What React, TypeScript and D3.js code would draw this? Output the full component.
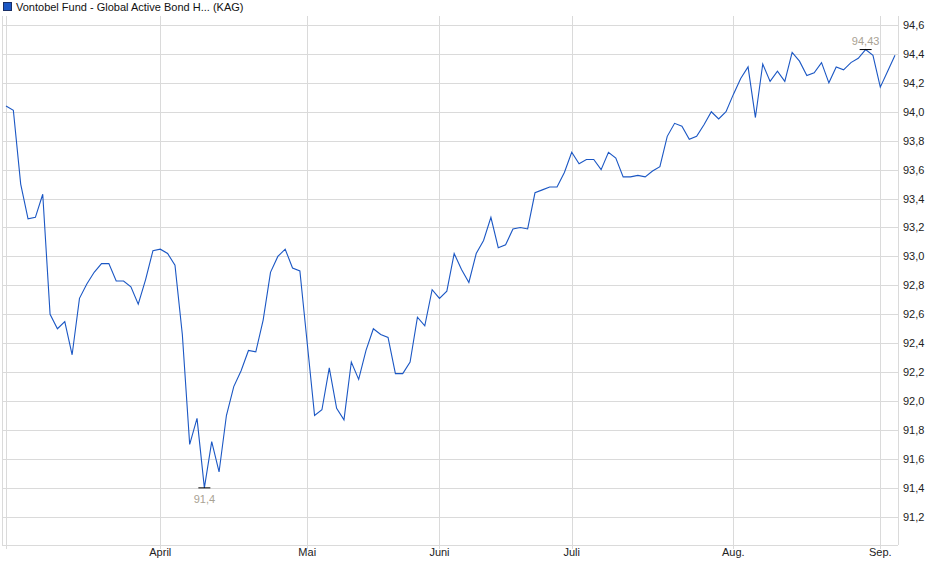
import React from "react";
import * as d3 from "d3";

// Fund price, one value per trading day
const values = [
  94.04, 94.01, 93.5, 93.26, 93.27, 93.43, 92.6, 92.5, 92.55, 92.32,
  92.71, 92.81, 92.89, 92.95, 92.95, 92.83, 92.83, 92.79, 92.67, 92.84,
  93.04, 93.05, 93.02, 92.94, 92.46, 91.7, 91.88, 91.4, 91.72, 91.51,
  91.9, 92.1, 92.21, 92.35, 92.34, 92.56, 92.89, 93.0, 93.05, 92.92,
  92.9, 92.4, 91.9, 91.94, 92.23, 91.95, 91.87, 92.27, 92.15, 92.35,
  92.5, 92.46, 92.44, 92.19, 92.19, 92.27, 92.58, 92.52, 92.77, 92.71,
  92.76, 93.02, 92.91, 92.82, 93.02, 93.11, 93.27, 93.06, 93.08, 93.19,
  93.2, 93.19, 93.44, 93.46, 93.48, 93.48, 93.58, 93.72, 93.64, 93.67,
  93.67, 93.6, 93.72, 93.68, 93.55, 93.55, 93.56, 93.55, 93.59, 93.62,
  93.83, 93.92, 93.9, 93.81, 93.83, 93.91, 94.0, 93.95, 94.0, 94.12,
  94.23, 94.31, 93.96, 94.33, 94.21, 94.28, 94.21, 94.41, 94.35, 94.25,
  94.27, 94.34, 94.2, 94.31, 94.29, 94.34, 94.37, 94.43, 94.39, 94.17,
  94.28, 94.39,
];

const monthLabels = ["April", "Mai", "Juni", "Juli", "Aug.", "Sep."];
const monthIndex = [21, 41, 59, 77, 99, 119];
const yTicks = [
  91.2, 91.4, 91.6, 91.8, 92.0, 92.2, 92.4, 92.6, 92.8, 93.0, 93.2, 93.4,
  93.6, 93.8, 94.0, 94.2, 94.4, 94.6,
];
const seriesName = "Vontobel Fund - Global Active Bond H... (KAG)";

const W = 940;
const H = 579;
const plot = { left: 2, right: 898, top: 16, bottom: 545 };
const FONT = "'Liberation Sans', Arial, sans-serif";
const GRID = "#dadada";
const LINE = "#1b57c4";
const NOTE = "#a9a293";

const fmtComma = (v: number, digits: number) =>
  v.toFixed(digits).replace(".", ",");
const fmtTrim = (v: number) =>
  String(Math.round(v * 100) / 100).replace(".", ",");

export default function App() {
  const x = d3
    .scaleLinear()
    .domain([0, values.length - 1])
    .range([6, 895]);
  const y = d3.scaleLinear().domain([91.005, 94.662]).range([plot.bottom, plot.top]);

  const line = d3
    .line<number>()
    .x((_, i) => x(i))
    .y((d) => y(d));

  const iMax = d3.maxIndex(values);
  const iMin = d3.minIndex(values);

  return (
    <svg
      width={W}
      height={H}
      style={{ position: "absolute", left: 0, top: 0, background: "#fff" }}
      fontFamily={FONT}
    >
      {/* legend */}
      <rect x={3.5} y={2.5} width={8} height={8} fill={LINE} stroke="#1a2f66" />
      <text x={16} y={10.5} fontSize={11} fill="#111">
        {seriesName}
      </text>

      {/* horizontal grid + right axis labels */}
      {yTicks.map((t) => (
        <g key={t}>
          <line
            x1={plot.left}
            x2={plot.right}
            y1={Math.round(y(t)) + 0.5}
            y2={Math.round(y(t)) + 0.5}
            stroke={GRID}
          />
          <text x={903} y={y(t) + 4} fontSize={11} fill="#222">
            {fmtComma(t, 1)}
          </text>
        </g>
      ))}

      {/* vertical grid at first point and month starts */}
      {[0, ...monthIndex].map((k) => (
        <line
          key={k}
          x1={Math.round(x(k)) + 0.5}
          x2={Math.round(x(k)) + 0.5}
          y1={plot.top}
          y2={plot.bottom + 4}
          stroke={GRID}
        />
      ))}
      {monthLabels.map((m, i) => (
        <text
          key={m}
          x={x(monthIndex[i])}
          y={556}
          fontSize={11}
          textAnchor="middle"
          fill="#222"
        >
          {m}
        </text>
      ))}

      {/* plot frame */}
      <line x1={plot.left + 0.5} x2={plot.left + 0.5} y1={plot.top} y2={plot.bottom} stroke={GRID} />
      <line x1={plot.right + 0.5} x2={plot.right + 0.5} y1={plot.top} y2={plot.bottom} stroke={GRID} />
      <line x1={plot.left} x2={plot.right} y1={plot.bottom + 0.5} y2={plot.bottom + 0.5} stroke={GRID} />

      {/* price line */}
      <path d={line(values) || ""} fill="none" stroke={LINE} strokeWidth={1.1} />

      {/* max / min markers */}
      <line
        x1={x(iMax) - 6}
        x2={x(iMax) + 6}
        y1={y(values[iMax])}
        y2={y(values[iMax])}
        stroke="#000"
      />
      <text x={x(iMax)} y={y(values[iMax]) - 5} fontSize={11} textAnchor="middle" fill={NOTE}>
        {fmtTrim(values[iMax])}
      </text>
      <line
        x1={x(iMin) - 6}
        x2={x(iMin) + 6}
        y1={y(values[iMin])}
        y2={y(values[iMin])}
        stroke="#000"
      />
      <text x={x(iMin)} y={y(values[iMin]) + 15} fontSize={11} textAnchor="middle" fill={NOTE}>
        {fmtTrim(values[iMin])}
      </text>
    </svg>
  );
}
